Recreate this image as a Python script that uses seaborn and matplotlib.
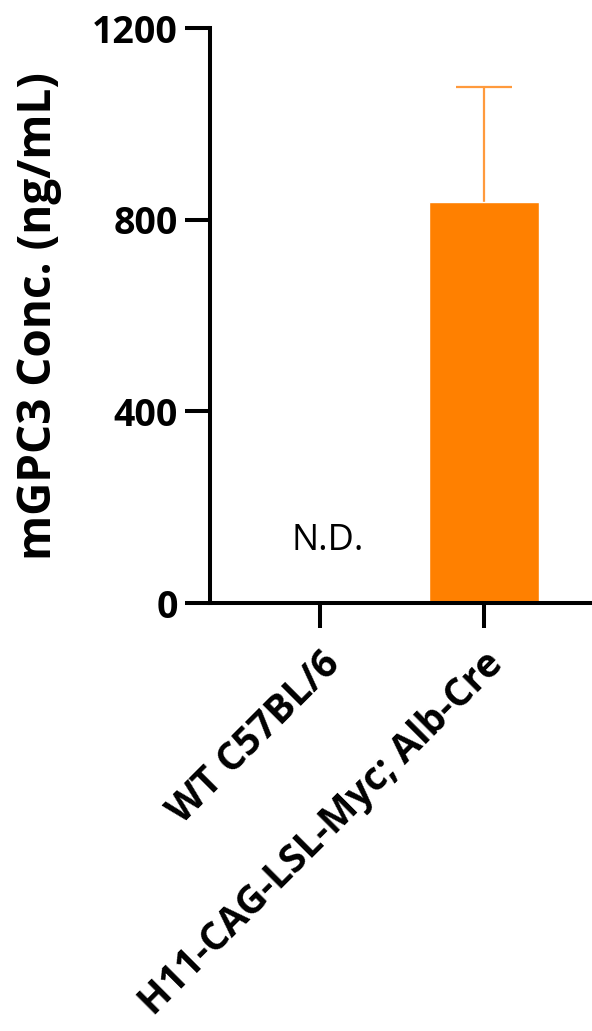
import matplotlib
matplotlib.use("Agg")
import matplotlib.pyplot as plt
import seaborn as sns
import pandas as pd

# ── data ────────────────────────────────────────────
groups = ["WT C57BL/6", "H11-CAG-LSL-Myc; Alb-Cre"]
conc_mean = [0, 837]
conc_sd = [0, 240]
nd_flags = [True, False]

sns.set_style("ticks")
plt.rcParams['font.family'] = ['Open Sans', 'DejaVu Sans']
plt.rcParams['text.color'] = 'black'
plt.rcParams['axes.labelcolor'] = 'black'
plt.rcParams['xtick.color'] = 'black'
plt.rcParams['ytick.color'] = 'black'
plt.rcParams['axes.edgecolor'] = 'black'

df = pd.DataFrame({'group': groups, 'conc': conc_mean, 'sd': conc_sd})

fig = plt.figure(figsize=(5.92, 10.31), dpi=100)
ax = fig.add_axes([0.3547, 0.4151, 0.6453, 0.5577])

sns.barplot(data=df, x='group', y='conc', color='#FF8000', saturation=1,
            width=0.67, errorbar=None, ax=ax, zorder=2)

# SD error bars (upper only, no lower cap)
for i, (m, s) in enumerate(zip(conc_mean, conc_sd)):
    if s > 0:
        ax.vlines(i, m, m + s, color='#FF9A3C', lw=1.6, zorder=1)
        ax.hlines(m + s, i - 0.17, i + 0.17, color='#FF9A3C', lw=1.6, zorder=1)

for i, nd in enumerate(nd_flags):
    if nd:
        ax.text(i + 0.05, 130, "N.D.", ha='center', va='center',
                fontsize=26, color='black')

ax.set_ylim(0, 1200)
ax.set_xlim(-0.67, 1.66)
ax.set_yticks([0, 400, 800, 1200])
ax.set_ylabel("mGPC3 Conc. (ng/mL)", fontsize=33, fontweight='bold', labelpad=22)
ax.set_xlabel("")

sns.despine(ax=ax)
for sp in ['left', 'bottom']:
    ax.spines[sp].set_linewidth(2.9)
ax.tick_params(axis='both', width=2.9, length=18, labelsize=27, color='black')
ax.tick_params(axis='y', pad=5)
ax.tick_params(axis='x', pad=12)
for lab in ax.get_yticklabels():
    lab.set_fontweight('bold')
for lab in ax.get_xticklabels():
    lab.set_fontweight('bold')
    lab.set_rotation(45)
    lab.set_ha('right')
    lab.set_rotation_mode('anchor')
    lab.set_fontsize(28)

fig.savefig("out.png", dpi=100)
